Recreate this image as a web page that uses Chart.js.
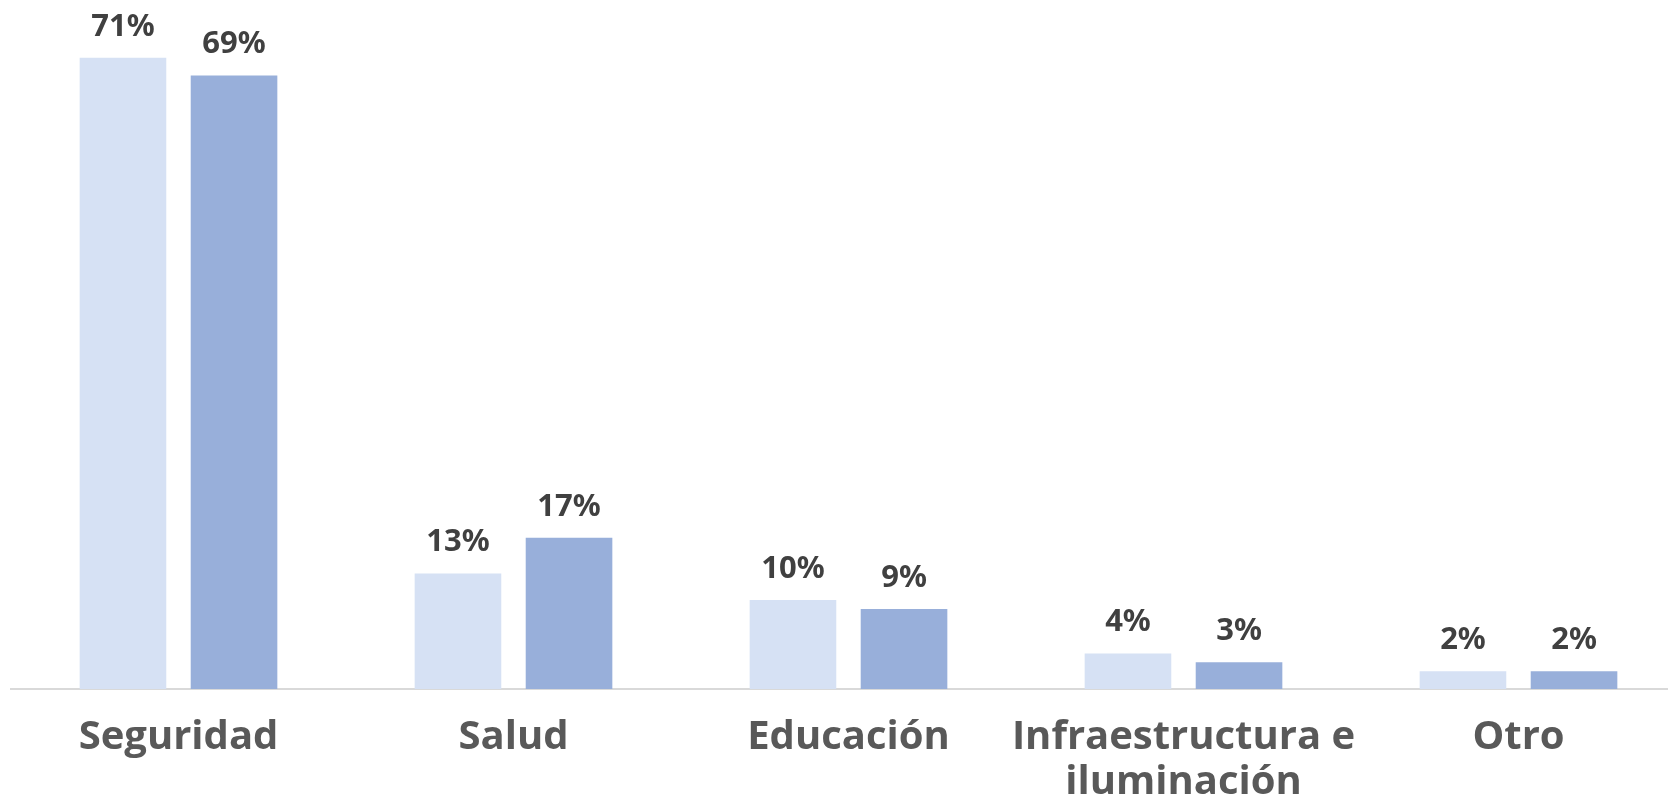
<!DOCTYPE html>
<html>
<head>
<meta charset="utf-8">
<script src="https://cdn.jsdelivr.net/npm/chart.js@4"></script>
<style>
  html, body { margin: 0; padding: 0; background: #ffffff; overflow: hidden; }
  .chart-box { position: relative; width: 1686px; height: 801px; }
</style>
</head>
<body>
<div class="chart-box"><canvas id="temasChart"></canvas></div>
<script>
// datos del gráfico
const categorias = ['Seguridad', 'Salud', 'Educación', ['Infraestructura e', 'iluminación'], 'Otro'];
const serieA = [71, 13, 10, 4, 2];
const serieB = [69, 17, 9, 3, 2];

const colorA = '#d6e1f4';
const colorB = '#98afda';

// etiquetas de porcentaje sobre cada barra (sin plugin externo)
const etiquetasPlugin = {
    id: 'etiquetas',
    afterDatasetsDraw(chart) {
        const ctx = chart.ctx;
        ctx.save();
        ctx.font = 'bold 31px "Noto Sans"';
        ctx.fillStyle = '#404040';
        ctx.textAlign = 'center';
        ctx.textBaseline = 'middle';
        chart.data.datasets.forEach((ds, i) => {
            const meta = chart.getDatasetMeta(i);
            meta.data.forEach((bar, j) => {
                ctx.fillText(ds.data[j] + '%', bar.x, bar.y - 31);
            });
        });
        ctx.restore();
    }
};

const ctx = document.getElementById('temasChart').getContext('2d');
const temasChart = new Chart(ctx, {
    type: 'bar',
    data: {
        labels: categorias,
        datasets: [
            { data: serieA, backgroundColor: colorA, borderWidth: 0 },
            { data: serieB, backgroundColor: colorB, borderWidth: 0 }
        ]
    },
    options: {
        responsive: true,
        maintainAspectRatio: false,
        animation: false,
        layout: { padding: { left: 11, right: 0, top: 0, bottom: 0 } },
        categoryPercentage: 0.663,
        barPercentage: 0.78,
        plugins: {
            legend: { display: false },
            tooltip: { enabled: false }
        },
        scales: {
            x: {
                grid: { display: false, drawTicks: false },
                border: { display: true, color: '#d9d9d9', width: 2 },
                ticks: {
                    color: '#595959',
                    font: { family: '"Open Sans"', size: 40, weight: 'bold', lineHeight: 1.12 },
                    padding: 26,
                    maxRotation: 0,
                    autoSkip: false
                },
                afterFit(scale) { scale.height = 112; }
            },
            y: {
                display: false,
                min: 0,
                max: 77.5
            }
        }
    },
    plugins: [etiquetasPlugin]
});
</script>
</body>
</html>
